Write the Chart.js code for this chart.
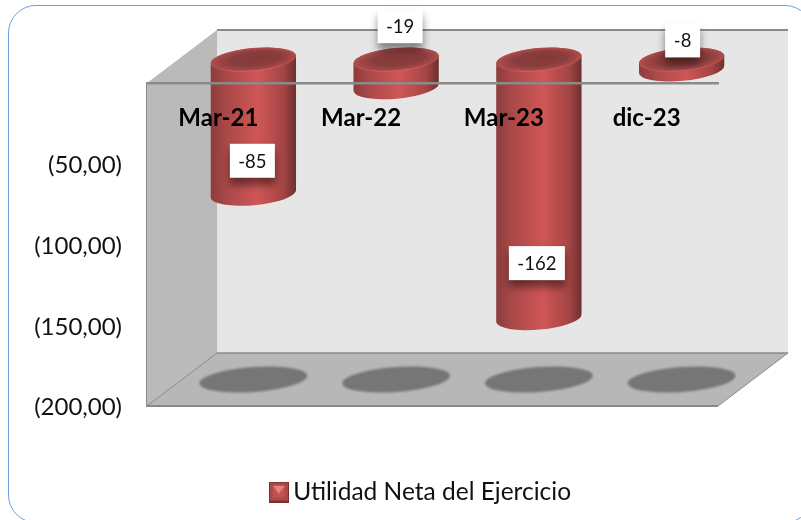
<!DOCTYPE html>
<html>
<head>
<meta charset="utf-8">
<title>Utilidad Neta del Ejercicio</title>
<script src="https://cdn.jsdelivr.net/npm/chart.js@4/dist/chart.umd.min.js"></script>
<style>
  html, body { margin: 0; padding: 0; background: #fff; overflow: hidden; }
  #wrap { position: relative; width: 801px; height: 520px; overflow: hidden; }
  #frame { position: absolute; left: 8px; top: 5px; width: 803px; height: 516px; border: 1.5px solid #6d9bd8; border-radius: 28px; }
  canvas { position: absolute; left: 0; top: 0; }
</style>
</head>
<body>
<div id="wrap">
  <div id="frame"></div>
  <canvas id="chart" width="801" height="520"></canvas>
</div>
<script>
var categories = ["Mar-21", "Mar-22", "Mar-23", "dic-23"];
var seriesName = "Utilidad Neta del Ejercicio";
var values = [-85, -19, -162, -8];
var yTicks = [0, -50, -100, -150, -200];

// the data labels were moved by hand in the original, so they keep their own shift (px from the bar end)
var labelShiftX = [-1, 4, -2, 1];
var labelShiftY = [-33, -61, -55, -29];

// depth of the 3d box, the bars stand halfway inside it
var depthX = 70;
var depthY = 53;
var tilt = -5.2 * Math.PI / 180;
var capHeight = 11.5;
var lineColor = "#8a8a8a";
var fontName = "Lato, Carlito, sans-serif";

function makeSwatch() {
  var c = document.createElement("canvas");
  c.width = 20;
  c.height = 21;
  var x = c.getContext("2d");
  x.fillStyle = "#7d2f2f";
  x.fillRect(0, 0, 20, 21);
  x.fillStyle = "#a84a4a";
  x.fillRect(1, 1, 18, 18);
  x.fillStyle = "#c45050";
  x.fillRect(4, 4, 12, 12);
  x.fillStyle = "#e88080";
  x.beginPath();
  x.moveTo(4, 4);
  x.lineTo(16, 4);
  x.lineTo(10, 12);
  x.closePath();
  x.fill();
  return c;
}

function polygon(ctx, pts, fill) {
  ctx.beginPath();
  ctx.moveTo(pts[0][0], pts[0][1]);
  for (var i = 1; i < pts.length; i++) {
    ctx.lineTo(pts[i][0], pts[i][1]);
  }
  ctx.closePath();
  ctx.fillStyle = fill;
  ctx.fill();
}

function strokeLine(ctx, x1, y1, x2, y2, w) {
  ctx.beginPath();
  ctx.moveTo(x1, y1);
  ctx.lineTo(x2, y2);
  ctx.lineWidth = w;
  ctx.strokeStyle = lineColor;
  ctx.stroke();
}

// walls, floor and the shadows under the bars
var boxPlugin = {
  id: "box",
  beforeDatasetsDraw: function (chart) {
    var ctx = chart.ctx;
    var a = chart.chartArea;
    var l = a.left, r = a.right, t = a.top, b = a.bottom;
    ctx.save();
    polygon(ctx, [[l + depthX, t - depthY], [r + depthX, t - depthY], [r + depthX, b - depthY], [l + depthX, b - depthY]], "#e6e6e6");
    polygon(ctx, [[l, t], [l + depthX, t - depthY], [l + depthX, b - depthY], [l, b]], "#bababa");
    polygon(ctx, [[l, b], [l + depthX, b - depthY], [r + depthX, b - depthY], [r, b]], "#b7b7b7");
    strokeLine(ctx, l + depthX, t - depthY, r + depthX, t - depthY, 2);
    strokeLine(ctx, l + depthX, b - depthY, r + depthX, b - depthY, 1.5);
    strokeLine(ctx, l, b, l + depthX, b - depthY, 1);
    strokeLine(ctx, r, b, r + depthX, b - depthY, 1);
    strokeLine(ctx, l, b, r, b, 2);

    var bars = chart.getDatasetMeta(0).data;
    ctx.filter = "blur(1.2px)";
    ctx.fillStyle = "#767676";
    for (var i = 0; i < bars.length; i++) {
      ctx.beginPath();
      ctx.ellipse(bars[i].x + depthX / 2, b - depthY / 2, bars[i].width * 0.63, 12.5, tilt * 0.8, 0, Math.PI * 2);
      ctx.fill();
    }
    ctx.restore();
  },
  afterDatasetsDraw: function (chart) {
    var ctx = chart.ctx;
    var bars = chart.getDatasetMeta(0).data;
    for (var i = 0; i < bars.length; i++) {
      drawCylinder(ctx, bars[i]);
    }
  },
  afterDraw: function (chart) {
    var ctx = chart.ctx;
    var bars = chart.getDatasetMeta(0).data;
    ctx.save();
    ctx.font = "18.5px " + fontName;
    ctx.textAlign = "center";
    ctx.textBaseline = "middle";
    for (var i = 0; i < bars.length; i++) {
      var text = String(values[i]);
      var w = Math.round(ctx.measureText(text).width) + 17;
      var cx = bars[i].x + depthX / 2 + labelShiftX[i];
      var cy = bars[i].y - depthY / 2 + labelShiftY[i];
      ctx.save();
      ctx.shadowColor = "rgba(0,0,0,0.45)";
      ctx.shadowBlur = 8;
      ctx.shadowOffsetY = 7;
      ctx.fillStyle = "#fff";
      ctx.fillRect(cx - w / 2, cy - 17, w, 34);
      ctx.restore();
      ctx.fillStyle = "#111";
      ctx.fillText(text, cx, cy + 1);
    }
    ctx.restore();
  },
  afterLayout: function (chart) {
    // legend sits well below the box and off centre, the layout alone would glue it to the floor
    chart.legend.top += 64;
    chart.legend.bottom += 64;
    chart.legend.left += 65;
    chart.legend.right += 65;
  }
};

function drawCylinder(ctx, bar) {
  var cx = bar.x + depthX / 2;
  var hw = bar.width / 2;
  var top = bar.base - depthY / 2 + 3;
  var bottom = bar.y - depthY / 2;
  var left = cx - hw;

  var body = ctx.createLinearGradient(left, 0, left + bar.width, 0);
  body.addColorStop(0, "#8c3c3c");
  body.addColorStop(0.2, "#ac4949");
  body.addColorStop(0.55, "#d05656");
  body.addColorStop(0.85, "#a54545");
  body.addColorStop(1, "#6d2f2f");

  ctx.save();
  ctx.beginPath();
  ctx.ellipse(cx, bottom, hw, capHeight, tilt, 0, Math.PI);
  ctx.ellipse(cx, top, hw, capHeight, tilt, Math.PI, Math.PI * 2);
  ctx.closePath();
  ctx.fillStyle = body;
  ctx.fill();

  // top cap, dark in the upper middle and fading to the body colour at the rim
  ctx.translate(cx, top);
  ctx.rotate(tilt);
  ctx.scale(1, capHeight / hw);
  var cap = ctx.createRadialGradient(hw * 0.12, -hw * 0.12, 0, 0, 0, hw);
  cap.addColorStop(0, "#843a3a");
  cap.addColorStop(0.6, "#8a3d3d");
  cap.addColorStop(0.88, "#a24747");
  cap.addColorStop(1, "#b95050");
  ctx.beginPath();
  ctx.arc(0, 0, hw, 0, Math.PI * 2);
  ctx.fillStyle = cap;
  ctx.fill();

  // light lip along the front edge of the cap
  var lip = ctx.createLinearGradient(-hw, 0, hw, 0);
  lip.addColorStop(0.1, "rgba(235,120,120,0)");
  lip.addColorStop(0.5, "rgba(235,120,120,0.9)");
  lip.addColorStop(0.9, "rgba(235,120,120,0)");
  ctx.beginPath();
  ctx.arc(0, 0, hw - 1, Math.PI * 0.15, Math.PI * 0.85);
  ctx.lineWidth = 3;
  ctx.strokeStyle = lip;
  ctx.stroke();
  ctx.restore();
}

new Chart(document.getElementById("chart"), {
  type: "bar",
  data: {
    labels: categories,
    datasets: [
      {
        label: seriesName,
        data: values,
        backgroundColor: "rgba(0,0,0,0)",
        borderWidth: 0,
        categoryPercentage: 1,
        barPercentage: 0.6,
      },
    ],
  },
  options: {
    responsive: false,
    animation: false,
    layout: { padding: { left: 0, right: 83, top: 83, bottom: 69.5 } },
    scales: {
      x: {
        position: { y: 0 },
        grid: { display: false, drawTicks: false },
        border: { display: true, color: lineColor, width: 2.5, z: 1 },
        ticks: {
          z: 1,
          padding: 23,
          maxRotation: 0,
          color: "#000",
          font: { family: fontName, size: 24, weight: "bold", lineHeight: 1 },
        },
      },
      y: {
        min: -200,
        max: 0,
        afterBuildTicks: function (scale) {
          scale.ticks = yTicks.map(function (v) {
            return { value: v };
          });
        },
        afterFit: function (scale) {
          scale.width = 147;
        },
        grid: { display: false, drawTicks: false },
        border: { display: true, color: lineColor, width: 2.5 },
        ticks: {
          padding: 25,
          labelOffset: 1.7,
          autoSkip: false,
          color: "#111",
          font: { family: fontName, size: 24, lineHeight: 1 },
          callback: function (v) {
            return v === 0 ? "" : "(" + Math.abs(v) + ",00)";
          },
        },
      },
    },
    plugins: {
      tooltip: { enabled: false },
      legend: {
        position: "bottom",
        labels: {
          usePointStyle: true,
          pointStyle: makeSwatch(),
          pointStyleWidth: 4,
          padding: 10,
          color: "#111",
          font: { family: fontName, size: 24.5, lineHeight: 1 },
        },
      },
    },
  },
  plugins: [boxPlugin],
});
</script>
</body>
</html>
